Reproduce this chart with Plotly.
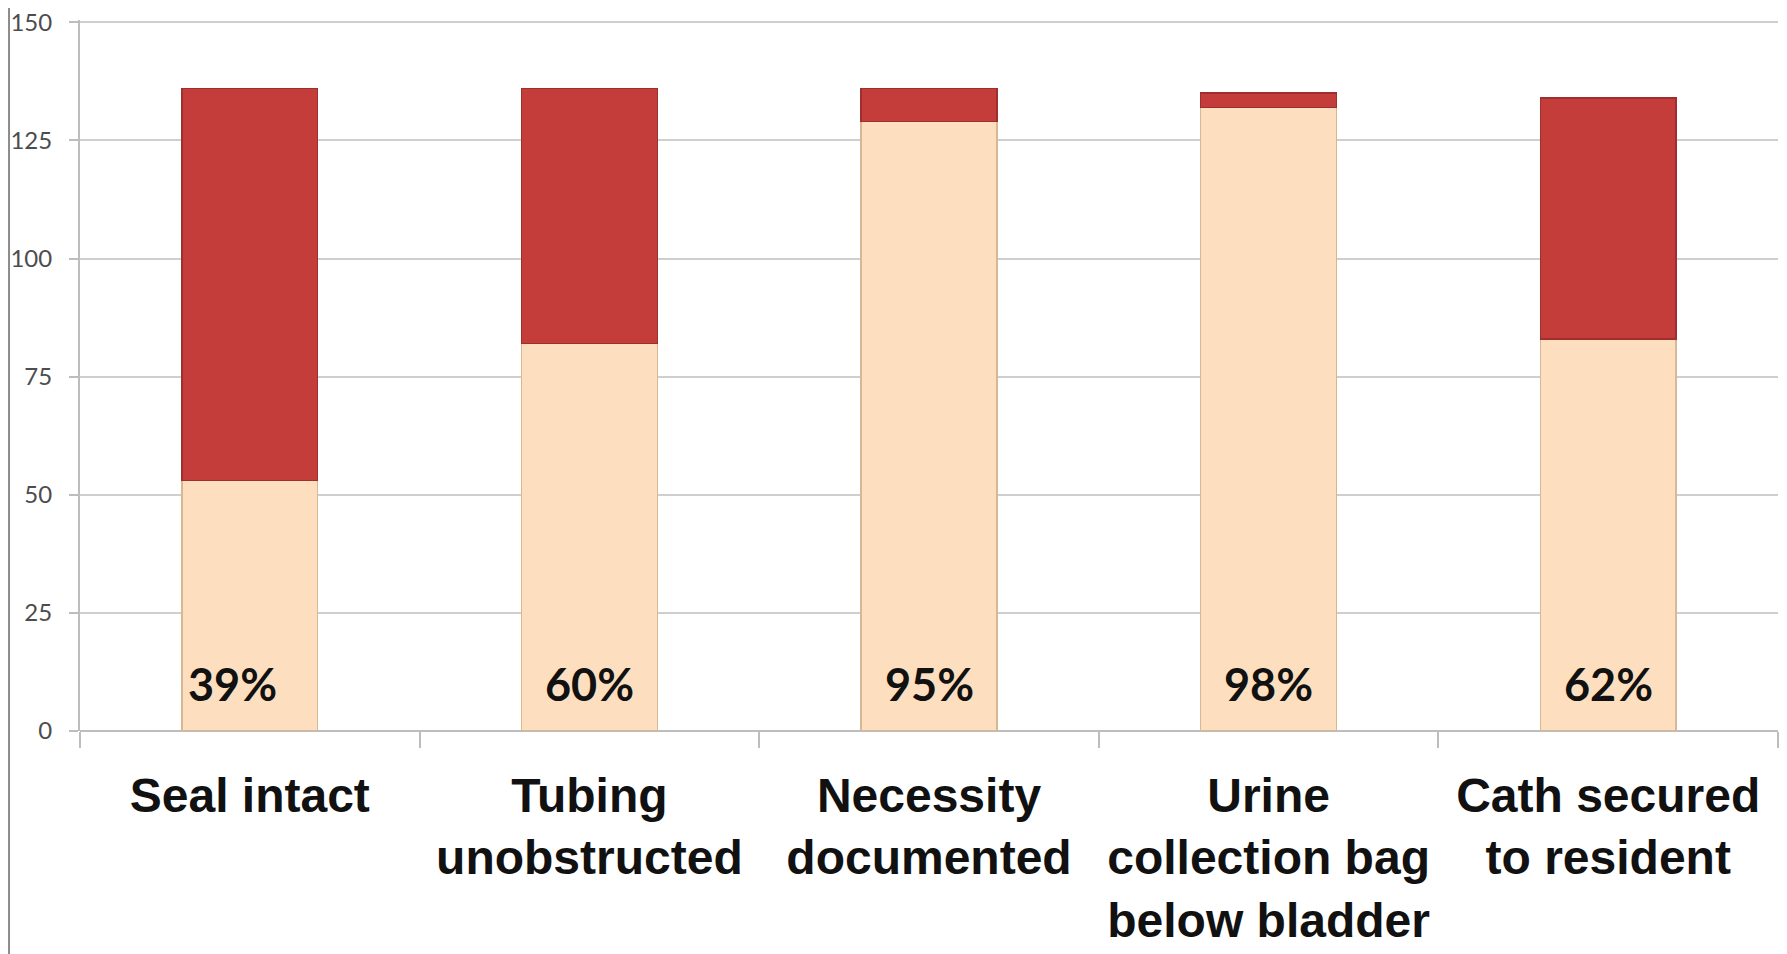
import plotly.graph_objects as go

categories = ["Seal intact", "Tubing<br>unobstructed", "Necessity<br>documented",
              "Urine<br>collection bag<br>below bladder", "Cath secured<br>to resident"]
compliant = [53, 82, 129, 132, 83]
non_compliant = [83, 54, 7, 3, 51]
pct_labels = ["39%", "60%", "95%", "98%", "62%"]
y_ticks = [0, 25, 50, 75, 100, 125, 150]

fig = go.Figure()
fig.add_trace(go.Bar(x=categories, y=compliant, name="Yes",
                     marker=dict(color="#FDDFBF", line=dict(color="#D8B894", width=1.5))))
fig.add_trace(go.Bar(x=categories, y=non_compliant, name="No",
                     marker=dict(color="#C43D3B", line=dict(color="#9E2F2D", width=1.5))))

for i, (cat, lab) in enumerate(zip(categories, pct_labels)):
    fig.add_annotation(x=cat, y=10, text=lab, showarrow=False,
                       xshift=-17 if i == 0 else 0,
                       font=dict(family="Lato", size=45, color="#111111", weight="bold"))

fig.add_shape(type="line", xref="paper", yref="paper", x0=-0.0418, x1=-0.0418,
              y0=-0.32, y1=1.04, line=dict(color="#8C8C8C", width=2))

fig.update_layout(
    barmode="stack", bargap=0.6, showlegend=False,
    width=1779, height=946,
    margin=dict(l=72, r=9, t=12, b=223),
    plot_bgcolor="white", paper_bgcolor="white",
    xaxis=dict(tickson="boundaries", ticks="outside", ticklen=16, tickcolor="#BDBDBD",
               tickwidth=2, showline=False, showgrid=False, ticklabelstandoff=32,
               automargin=False,
               tickfont=dict(family="Liberation Sans, Arial", size=48, color="#111111", weight="bold")),
    yaxis=dict(range=[0, 150.5], tickvals=y_ticks, ticks="outside", ticklen=9,
               tickcolor="#BDBDBD", tickwidth=2, showline=True, linecolor="#BDBDBD", linewidth=2,
               gridcolor="#CFCFCF", gridwidth=2, zeroline=True, zerolinecolor="#BDBDBD",
               zerolinewidth=2, ticklabelstandoff=12, automargin=False,
               ticklabeloverflow="allow",
               tickfont=dict(family="Lato", size=24, color="#4D4D4D")),
)

fig.write_html("out.html")
